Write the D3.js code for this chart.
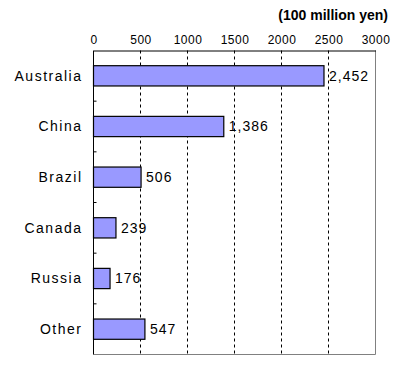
<!DOCTYPE html>
<html>
<head>
<meta charset="utf-8">
<script src="https://cdn.jsdelivr.net/npm/d3@7"></script>
<style>
body { margin: 0; background: #fff; }
text { font-family: "Liberation Sans", Arial, sans-serif; fill: #000; }
</style>
</head>
<body>
<svg id="chart" width="395" height="365"></svg>
<script>
var categories = ["Australia", "China", "Brazil", "Canada", "Russia", "Other"];
var values = [2452, 1386, 506, 239, 176, 547];
var tickValues = [0, 500, 1000, 1500, 2000, 2500, 3000];
var unitLabel = "(100 million yen)";

var margin = { top: 50.5, right: 19.5, bottom: 10.5, left: 93.5 };
var width = 395 - margin.left - margin.right;
var height = 365 - margin.top - margin.bottom;

var svg = d3.select("#chart");
var g = svg.append("g")
  .attr("transform", "translate(" + margin.left + "," + margin.top + ")");

var x = d3.scaleLinear().domain([0, 3000]).range([0, width]);
var y = d3.scaleBand().domain(categories).range([0, height]).paddingInner(0.6).paddingOuter(0.3);

// gridlines
g.selectAll(".grid")
  .data(tickValues.filter(function(d) { return d > 0 && d < 3000; }))
  .enter().append("line")
  .attr("x1", function(d) { return x(d); })
  .attr("x2", function(d) { return x(d); })
  .attr("y1", 0)
  .attr("y2", height)
  .attr("stroke", "#000")
  .attr("stroke-dasharray", "3,3");

// right + bottom border (gray)
g.append("path")
  .attr("d", "M" + width + ",0V" + height + "H0")
  .attr("fill", "none")
  .attr("stroke", "#808080");

// top axis
var xAxis = g.append("g")
  .call(d3.axisTop(x).tickValues(tickValues).tickFormat(d3.format("d")).tickSize(0).tickPadding(7));
xAxis.select(".domain").attr("stroke", "#000");
xAxis.selectAll("text")
  .style("font-size", "12px")
  .style("letter-spacing", "0.5px")
  .style("font-family", "Liberation Sans, Arial, sans-serif");

// left axis with inner ticks at category boundaries
g.append("line")
  .attr("x1", 0).attr("x2", 0).attr("y1", 0).attr("y2", height)
  .attr("stroke", "#000");
var step = y.step();
g.selectAll(".ytick")
  .data(categories.slice(1))
  .enter().append("line")
  .attr("x1", 0).attr("x2", 3)
  .attr("y1", function(d) { return y(d) - step * 0.3; })
  .attr("y2", function(d) { return y(d) - step * 0.3; })
  .attr("stroke", "#000");

g.selectAll(".ylabel")
  .data(categories)
  .enter().append("text")
  .attr("x", -11)
  .attr("y", function(d) { return y(d) + y.bandwidth() / 2; })
  .attr("dy", "0.35em")
  .attr("text-anchor", "end")
  .style("font-size", "14px")
  .style("letter-spacing", "1.5px")
  .text(function(d) { return d; });

// bars
g.selectAll(".bar")
  .data(values)
  .enter().append("rect")
  .attr("x", 0)
  .attr("y", function(d, i) { return y(categories[i]); })
  .attr("width", function(d) { return x(d); })
  .attr("height", y.bandwidth())
  .attr("fill", "#9999ff")
  .attr("stroke", "#000")
  .attr("stroke-width", 1.2);

// value labels
var fmt = d3.format(",");
g.selectAll(".val")
  .data(values)
  .enter().append("text")
  .attr("x", function(d) { return x(d) + 5; })
  .attr("y", function(d, i) { return y(categories[i]) + y.bandwidth() / 2; })
  .attr("dy", "0.35em")
  .style("font-size", "14px")
  .style("letter-spacing", "1px")
  .text(function(d) { return fmt(d); });

// unit label
svg.append("text")
  .attr("x", 388)
  .attr("y", 20)
  .attr("text-anchor", "end")
  .style("font-size", "14px")
  .style("font-weight", "bold")
  .text(unitLabel);
</script>
</body>
</html>
